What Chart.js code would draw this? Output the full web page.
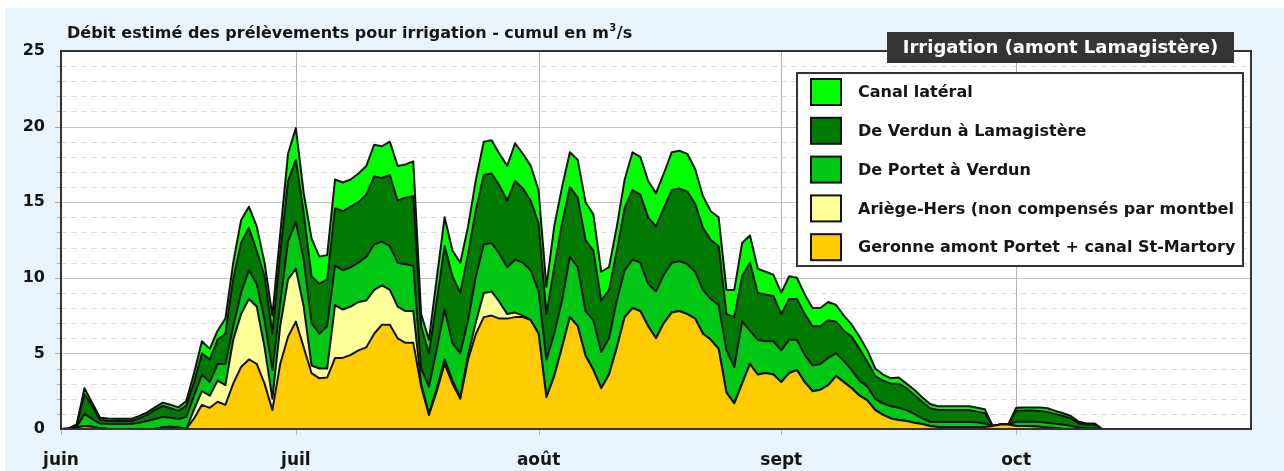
<!DOCTYPE html>
<html lang="fr">
<head>
<meta charset="utf-8">
<script src="https://cdn.jsdelivr.net/npm/chart.js@4.4.1/dist/chart.umd.min.js"></script>
<style>
html, body { margin: 0; padding: 0; background: #fff; }
#wrap { width: 1284px; height: 471px; }
</style>
</head>
<body>
<div id="wrap"><canvas id="chart" width="1284" height="471"></canvas></div>
<script>
// ---- Data ---------------------------------------------------------------
const MONTH_NAMES = ['juin', 'juil', 'août', 'sept', 'oct'];
const MONTH_LENGTHS = [30, 31, 31, 30, 31];

// one label per day, 1 juin -> 31 oct
const DAYS = [];
MONTH_NAMES.forEach((m, i) => {
    for (let d = 1; d <= MONTH_LENGTHS[i]; d++) DAYS.push(d + ' ' + m);
});

const Y_TICKS = [0, 5, 10, 15, 20, 25];

// daily flows, m3/s (stacked bottom -> top)
const GERONNE = [
    0, 0, 0.1, 0.2, 0.15, 0.05, 0, 0, 0, 0,
    0, 0, 0, 0.12, 0.15, 0.1, 0, 0.7, 1.6, 1.4,
    1.8, 1.6, 3.0, 4.1, 4.6, 4.3, 3.0, 1.25, 4.3, 6.1,
    7.1, 5.4, 3.7, 3.35, 3.4, 4.7, 4.7, 4.9, 5.2, 5.4,
    6.3, 6.9, 6.9, 6.0, 5.7, 5.7, 2.8, 0.93, 2.5, 4.3,
    3.0, 2.0, 4.6, 6.3, 7.4, 7.5, 7.3, 7.3, 7.4, 7.4,
    7.2, 6.3, 2.1, 3.5, 5.4, 7.4, 6.8, 4.85, 3.9, 2.7,
    3.6, 5.4, 7.4, 8.0, 7.8, 6.8, 6.0, 7.0, 7.7, 7.8,
    7.6, 7.3, 6.3, 5.9, 5.3, 2.4, 1.7, 3.0, 4.3, 3.6,
    3.7, 3.6, 3.1, 3.7, 3.9, 3.1, 2.5, 2.6, 2.9, 3.5,
    3.1, 2.7, 2.2, 1.9, 1.25, 0.93, 0.7, 0.6, 0.53, 0.42,
    0.33, 0.2, 0.13, 0.13, 0.13, 0.13, 0.13, 0.13, 0.13, 0.2,
    0.3, 0.3, 0.2, 0.2, 0.18, 0.15, 0.1, 0.07, 0, 0,
    0, 0, 0, 0
];
const ARIEGE = [
    0, 0, 0, 0, 0, 0, 0, 0, 0, 0,
    0, 0, 0, 0, 0, 0, 0, 0.6, 0.9, 0.8,
    1.4, 1.3, 2.9, 3.5, 4.0, 3.8, 2.4, 0.75, 2.5, 3.8,
    3.5, 2.7, 0.5, 0.65, 0.6, 3.5, 3.2, 3.2, 3.2, 3.1,
    2.9, 2.6, 2.3, 2.1, 2.1, 2.1, 0.2, 0.07, 0.2, 0.3,
    0.2, 0.1, 0.3, 0.8, 1.6, 1.6, 1.1, 0.3, 0.3, 0.1,
    0, 0, 0, 0, 0, 0, 0, 0, 0, 0,
    0, 0, 0, 0, 0, 0, 0, 0, 0, 0,
    0, 0, 0, 0, 0, 0, 0, 0, 0, 0,
    0, 0, 0, 0, 0, 0, 0, 0, 0, 0,
    0, 0, 0, 0, 0, 0, 0, 0, 0, 0,
    0, 0, 0, 0, 0, 0, 0, 0, 0, 0,
    0, 0, 0, 0, 0, 0, 0, 0, 0, 0,
    0, 0, 0, 0
];
const PORTET = [
    0, 0.02, 0.05, 0.8, 0.51, 0.3, 0.33, 0.33, 0.33, 0.33,
    0.42, 0.53, 0.66, 0.68, 0.6, 0.56, 0.8, 0.9, 1.1, 0.9,
    1.1, 1.4, 0.9, 1.4, 1.9, 1.5, 1.8, 1.9, 1.5, 2.5,
    3.1, 3.1, 2.8, 2.3, 2.8, 2.6, 2.6, 2.6, 2.6, 2.9,
    3.0, 2.9, 2.9, 2.9, 3.1, 3.0, 1.0, 1.8, 2.6, 3.3,
    2.5, 2.9, 2.3, 3.0, 3.2, 3.2, 3.2, 3.1, 3.5, 3.5,
    3.3, 2.8, 2.5, 2.8, 3.1, 4.0, 3.9, 2.95, 3.3, 2.4,
    2.4, 3.1, 3.1, 3.2, 3.2, 2.8, 3.1, 3.2, 3.3, 3.3,
    3.3, 3.1, 2.9, 2.7, 2.9, 2.8, 2.4, 4.1, 2.2, 2.3,
    2.1, 2.2, 2.1, 2.2, 2.0, 1.8, 1.7, 1.7, 1.8, 1.5,
    1.4, 1.2, 1.0, 0.9, 0.75, 0.77, 0.8, 0.8, 0.72, 0.58,
    0.37, 0.28, 0.33, 0.33, 0.33, 0.33, 0.33, 0.31, 0.24, 0,
    0, 0, 0.28, 0.3, 0.3, 0.31, 0.32, 0.28, 0.29, 0.2,
    0.1, 0.04, 0.04, 0
];
const VERDUN = [
    0, 0.01, 0.1, 1.3, 0.84, 0.25, 0.22, 0.2, 0.2, 0.2,
    0.28, 0.4, 0.6, 0.72, 0.62, 0.54, 0.75, 0.9, 1.4, 1.5,
    1.6, 2.0, 3.1, 3.3, 2.8, 2.2, 2.9, 2.4, 3.3, 4.0,
    4.1, 3.1, 3.1, 3.3, 3.1, 3.8, 3.9, 4.0, 4.0, 4.1,
    4.5, 4.2, 4.7, 4.1, 4.4, 4.6, 2.8, 2.2, 3.2, 4.2,
    4.4, 4.0, 4.4, 4.4, 4.6, 4.6, 4.5, 4.4, 5.2, 4.9,
    4.6, 4.5, 3.0, 4.4, 5.1, 4.6, 4.6, 4.7, 4.6, 3.4,
    3.2, 3.3, 4.1, 4.6, 4.5, 4.4, 4.3, 4.4, 4.8, 4.8,
    4.8, 4.5, 4.1, 3.9, 3.9, 2.4, 3.3, 3.0, 4.5, 3.1,
    3.1, 3.0, 2.4, 2.7, 2.7, 2.7, 2.6, 2.5, 2.5, 2.1,
    2.0, 2.2, 2.1, 1.65, 1.5, 1.5, 1.5, 1.6, 1.45, 1.25,
    1.1, 0.89, 0.8, 0.8, 0.8, 0.8, 0.8, 0.71, 0.67, 0,
    0, 0, 0.72, 0.73, 0.75, 0.73, 0.7, 0.65, 0.57, 0.5,
    0.27, 0.26, 0.26, 0
];
const CANAL = [
    0, 0.02, 0.05, 0.4, 0.2, 0.15, 0.15, 0.15, 0.14, 0.14,
    0.16, 0.17, 0.17, 0.22, 0.23, 0.23, 0.3, 0.6, 0.8, 0.7,
    0.6, 1.0, 1.1, 1.5, 1.4, 1.6, 0.9, 1.2, 1.3, 1.8,
    2.1, 1.3, 2.5, 1.8, 1.6, 1.9, 1.9, 1.8, 1.9, 1.9,
    2.1, 2.1, 2.2, 2.3, 2.2, 2.3, 0.8, 0.9, 1.5, 1.9,
    1.7, 2.0, 1.8, 2.0, 2.2, 2.2, 2.1, 2.3, 2.5, 2.3,
    2.3, 2.2, 1.8, 2.7, 2.4, 2.3, 2.5, 2.5, 2.4, 1.9,
    1.5, 1.6, 1.9, 2.5, 2.5, 2.4, 2.2, 2.3, 2.5, 2.5,
    2.5, 2.3, 2.1, 1.9, 1.9, 1.6, 1.8, 2.2, 1.8, 1.6,
    1.5, 1.4, 1.4, 1.5, 1.4, 1.3, 1.2, 1.2, 1.2, 1.1,
    1.0, 0.8, 0.8, 0.75, 0.5, 0.4, 0.35, 0.4, 0.3, 0.35,
    0.3, 0.28, 0.24, 0.24, 0.24, 0.24, 0.24, 0.25, 0.26, 0,
    0, 0, 0.2, 0.2, 0.2, 0.23, 0.25, 0.2, 0.18, 0.16,
    0.11, 0.07, 0.07, 0
];

const SERIES = [
    { label: 'Geronne amont Portet + canal St-Martory', data: GERONNE, color: '#ffcc00' },
    { label: 'Ariège-Hers (non compensés par montbel', data: ARIEGE, color: '#ffff99' },
    { label: 'De Portet à Verdun', data: PORTET, color: '#00c814' },
    { label: 'De Verdun à Lamagistère', data: VERDUN, color: '#007a00' },
    { label: 'Canal latéral', data: CANAL, color: '#00ff00' },
];

// ---- Look ---------------------------------------------------------------
const FONT = "'DejaVu Sans', sans-serif";
const TEXT = '#151515';
const PAGE_BLUE = '#e8f4fd';

// month boundaries = first day of each month in DAYS
const monthStarts = [];
DAYS.forEach((d, i) => { if (d.startsWith('1 ')) monthStarts.push(i); });

// ---- Plugins ------------------------------------------------------------
const backdrop = {
    id: 'backdrop',
    beforeDraw(chart) {
        const { ctx, chartArea: a, scales: { x, y } } = chart;
        ctx.save();
        ctx.fillStyle = '#fff';
        ctx.fillRect(0, 0, chart.width, chart.height);
        ctx.fillStyle = PAGE_BLUE;
        ctx.fillRect(5, 8, chart.width - 5, chart.height - 8);
        ctx.fillStyle = '#fff';
        ctx.fillRect(a.left, a.top, a.right - a.left, a.bottom - a.top);

        // horizontal grid: dashed every unit, solid every 5
        for (let v = 1; v < 25; v++) {
            const py = Math.round(y.getPixelForValue(v)) + 0.5;
            const major = v % 5 === 0;
            ctx.beginPath();
            ctx.setLineDash(major ? [] : [6, 4]);
            ctx.strokeStyle = major ? '#c4c4c4' : '#e0e0e0';
            ctx.lineWidth = 1;
            ctx.moveTo(a.left, py);
            ctx.lineTo(a.right, py);
            ctx.stroke();
            ctx.setLineDash([]);
            ctx.beginPath();
            ctx.strokeStyle = '#aaa';
            ctx.moveTo(a.left - (major ? 6 : 4), py);
            ctx.lineTo(a.left, py);
            ctx.stroke();
        }
        // month lines
        monthStarts.forEach(i => {
            const px = Math.round(x.getPixelForValue(i)) + 0.5;
            ctx.beginPath();
            ctx.strokeStyle = '#b4b4b4';
            ctx.lineWidth = 1;
            ctx.moveTo(px, a.top);
            ctx.lineTo(px, a.bottom + 6);
            ctx.stroke();
        });
        ctx.restore();
    },
    afterDatasetsDraw(chart) {
        const { ctx, chartArea: a } = chart;
        ctx.save();
        ctx.strokeStyle = '#333';
        ctx.lineWidth = 2;
        ctx.strokeRect(a.left, a.top, a.right - a.left, a.bottom - a.top);
        ctx.restore();
    },
    afterDraw(chart) {
        const { ctx, chartArea: a } = chart;
        ctx.save();
        // chart title with superscript
        ctx.fillStyle = TEXT;
        ctx.textBaseline = 'alphabetic';
        ctx.textAlign = 'left';
        ctx.font = 'bold 16px ' + FONT;
        let tx = a.left + 6;
        const ty = 38;
        const part1 = 'Débit estimé des prélèvements pour irrigation - cumul en m';
        ctx.fillText(part1, tx, ty);
        tx += ctx.measureText(part1).width;
        ctx.font = 'bold 10px ' + FONT;
        ctx.fillText('3', tx + 0.5, ty - 7);
        tx += ctx.measureText('3').width + 1;
        ctx.font = 'bold 16px ' + FONT;
        ctx.fillText('/s', tx, ty);

        // dark tag top right
        const bx = 887, by = 32, bw = 347, bh = 31;
        ctx.fillStyle = '#353535';
        ctx.fillRect(bx, by, bw, bh);
        ctx.fillStyle = '#fff';
        ctx.font = 'bold 18px ' + FONT;
        ctx.textAlign = 'center';
        ctx.textBaseline = 'middle';
        ctx.fillText('Irrigation (amont Lamagistère)', bx + bw / 2, by + bh / 2 + 1);

        // legend
        const lx = 797, ly = 73, lw = 446, lh = 193;
        ctx.fillStyle = '#fff';
        ctx.fillRect(lx, ly, lw, lh);
        ctx.strokeStyle = '#333';
        ctx.lineWidth = 2;
        ctx.strokeRect(lx, ly, lw, lh);
        const items = chart.data.datasets.slice().reverse();
        items.forEach((ds, i) => {
            const cy = ly + 19 + i * 38.8;
            ctx.fillStyle = ds.backgroundColor;
            ctx.fillRect(811, cy - 13, 30, 26);
            ctx.strokeStyle = '#111';
            ctx.lineWidth = 2;
            ctx.strokeRect(811, cy - 13, 30, 26);
            ctx.fillStyle = TEXT;
            ctx.font = 'bold 16px ' + FONT;
            ctx.textAlign = 'left';
            ctx.textBaseline = 'middle';
            ctx.fillText(ds.label, 858, cy + 1);
        });
        ctx.restore();
    }
};

// ---- Chart --------------------------------------------------------------
const ctx = document.getElementById('chart').getContext('2d');

new Chart(ctx, {
    type: 'line',
    data: {
        labels: DAYS,
        datasets: SERIES.map((s, i) => ({
            label: s.label,
            data: s.data,
            backgroundColor: s.color,
            borderColor: '#111',
            borderWidth: 2,
            borderJoinStyle: 'round',
            pointRadius: 0,
            tension: 0,
            fill: i === 0 ? 'origin' : '-1',
        }))
    },
    options: {
        responsive: false,
        animation: false,
        devicePixelRatio: 1,
        layout: { padding: { top: 51, right: 33, left: 0, bottom: 0 } },
        plugins: {
            legend: { display: false },
            tooltip: { enabled: false },
        },
        scales: {
            x: {
                offset: false,
                grid: { display: false, drawTicks: false },
                border: { display: false },
                ticks: {
                    autoSkip: false,
                    maxRotation: 0,
                    padding: 21,
                    color: TEXT,
                    font: { family: FONT, size: 17, weight: 'bold' },
                    callback: (v, i) => {
                        const m = monthStarts.indexOf(i);
                        return m >= 0 ? MONTH_NAMES[m] : '';
                    },
                },
                afterFit: s => { s.height = 42; },
            },
            y: {
                stacked: true,
                min: Y_TICKS[0],
                max: Y_TICKS[Y_TICKS.length - 1],
                grid: { display: false, drawTicks: false },
                border: { display: false },
                ticks: {
                    stepSize: 5,
                    padding: 16,
                    color: TEXT,
                    font: { family: FONT, size: 16, weight: 'bold' },
                },
                afterFit: s => { s.width = 61; },
            }
        }
    },
    plugins: [backdrop]
});
</script>
</body>
</html>
